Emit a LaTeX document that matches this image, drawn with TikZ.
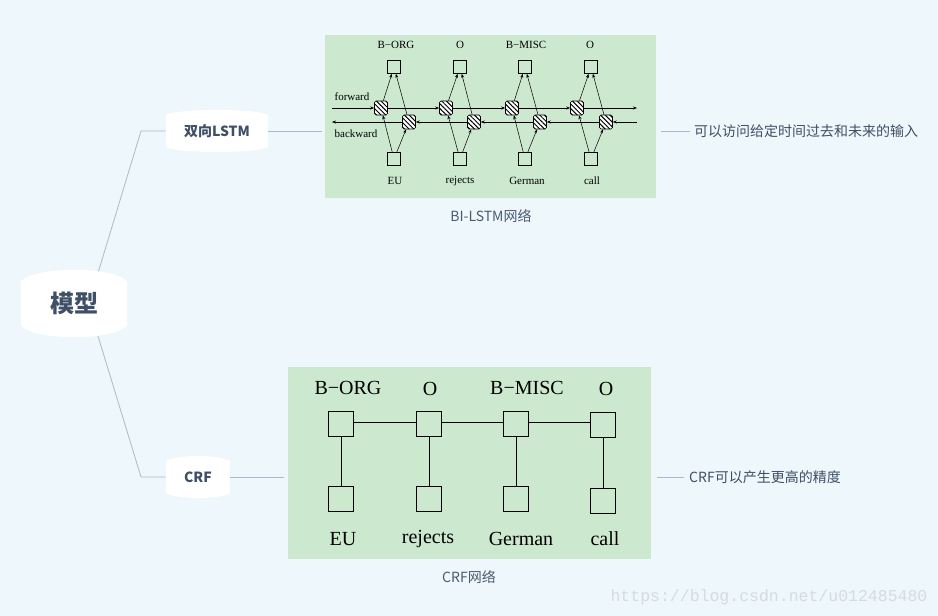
\documentclass[tikz,border=0pt]{standalone}
\usepackage{fontspec}
\setmainfont{Liberation Serif}
\newfontfamily\cjk{Noto Sans CJK SC}
\newfontfamily\monof{Liberation Mono}
\usetikzlibrary{arrows.meta,patterns.meta}
\pgfdeclarelayer{bg}
\pgfsetlayers{bg,main}
\definecolor{bgc}{HTML}{EEF7FB}
\definecolor{imgg}{HTML}{CCE8CF}
\definecolor{mmtext}{HTML}{3E4F66}
\definecolor{mmline}{HTML}{A9BBCB}
\definecolor{captxt}{HTML}{4A5A70}
\definecolor{wmc}{HTML}{D5DCE1}
\newcommand{\mmfill}[2]{%
  \fill[white] ([yshift=-#2]#1.north west) .. controls ([xshift=12pt]#1.north west) and ([xshift=-12pt]#1.north east) .. ([yshift=-#2]#1.north east)
    -- ([yshift=#2]#1.south east) .. controls ([xshift=-12pt]#1.south east) and ([xshift=12pt]#1.south west) .. ([yshift=#2]#1.south west) -- cycle;}
\begin{document}
\begin{tikzpicture}[x=1pt,y=-1pt,
  mm/.style={text=mmtext, inner sep=0pt},
  mmln/.style={draw=mmline, line width=0.8pt},
  lbox/.style={draw, line width=0.6pt, minimum size=13pt, inner sep=0pt},
  cell/.style={draw, line width=0.6pt, minimum width=13pt, minimum height=14pt, inner sep=0pt, rounded corners=1.5pt, fill=white, postaction={pattern={Lines[angle=-45,distance=3.3pt,line width=1pt]}}},
  arr/.style={line width=0.5pt, -{Stealth[length=4pt,width=3pt]}},
  ltxt/.style={font=\fontsize{11}{11}\selectfont, inner sep=0pt},
  cbox/.style={draw, line width=0.8pt, minimum size=25pt, inner sep=0pt},
  ctxt/.style={font=\fontsize{20}{20}\selectfont, inner sep=0pt},
  note/.style={font=\cjk\fontsize{14}{14}\selectfont, text=mmtext, inner sep=0pt, anchor=west},
  captn/.style={font=\cjk\fontsize{14}{14}\selectfont, text=captxt, inner sep=0pt}
]
\useasboundingbox (0,0) rectangle (938,616);

% mind map nodes
\node[mm, font=\cjk\bfseries\fontsize{24}{24}\selectfont, minimum width=106pt, minimum height=75pt] (root) at (74,303.5) {模型};
\node[mm, font=\cjk\bfseries\fontsize{14}{14}\selectfont, minimum width=102pt, minimum height=45pt] (lstm) at (217,131) {双向LSTM};
\node[mm, font=\cjk\bfseries\fontsize{14}{14}\selectfont, minimum width=64pt, minimum height=45pt] (crf) at (198,477) {CRF};

% image panels
\node[fill=imgg, minimum width=331pt, minimum height=163pt, inner sep=0pt] (img1) at (490.5,116.5) {};
\node[fill=imgg, minimum width=363pt, minimum height=192pt, inner sep=0pt] (img2) at (469.5,463) {};

\coordinate (r1) at (98,273);
\coordinate (r2) at (98,336);
\coordinate (k1) at (141,131);
\coordinate (k2) at (141,477);

\begin{pgfonlayer}{bg}
  \fill[bgc] (0,0) rectangle (938,616);
  \draw[mmln] (r1) -- (k1) -- (lstm);
  \draw[mmln] (r2) -- (k2) -- (crf);
  \mmfill{root}{16pt}
  \mmfill{lstm}{6.7pt}
  \mmfill{crf}{6.7pt}
\end{pgfonlayer}

\draw[mmln] (lstm.east) -- ([xshift=-3pt]img1.west |- lstm.east);
\draw[mmln] (crf.east) -- ([xshift=-4pt]img2.west |- crf.east);

% notes
\node[note] (n1) at (694,131) {可以访问给定时间过去和未来的输入};
\node[note] (n2) at (689,477) {CRF可以产生更高的精度};
\draw[mmln] ([xshift=5pt]img1.east |- n1.west) -- ([xshift=-4pt]n1.west);
\draw[mmln] ([xshift=6pt]img2.east |- n2.west) -- ([xshift=-5pt]n2.west);

% captions
\node[captn] (c1) at (491,216) {BI-LSTM网络};
\node[captn] (c2) at (469,577) {CRF网络};

% ---------- BI-LSTM figure ----------
\foreach \i/\x in {1/394,2/460,3/525,4/591}{
  \node[lbox] (t\i) at (\x,67) {};
  \node[lbox] (u\i) at (\x,159) {};
}
\foreach \i/\x in {1/381,2/446,3/512,4/577}{
  \node[cell] (f\i) at (\x,108) {};
}
\foreach \i/\x in {1/409,2/474,3/540,4/606}{
  \node[cell] (b\i) at (\x,122) {};
}
\node[ltxt] (tl1) at (396,45) {B−ORG};
\node[ltxt] (tl2) at (460,45) {O};
\node[ltxt] (tl3) at (526,45) {B−MISC};
\node[ltxt] (tl4) at (590,45) {O};
\node[ltxt] (bl1) at (395,181) {EU};
\node[ltxt] (bl2) at (460,181) {rejects};
\node[ltxt] (bl3) at (527,181) {German};
\node[ltxt] (bl4) at (592,181) {call};
\node[ltxt] (fw) at (352,97) {forward};
\node[ltxt] (bw) at (356,134) {backward};

\coordinate (fs) at (332,108);
\coordinate (fe) at (637,108);
\coordinate (bs) at (637,122);
\coordinate (be) at (332,122);
\draw[arr] (fs) -- (f1);
\draw[arr] (f1) -- (f2);
\draw[arr] (f2) -- (f3);
\draw[arr] (f3) -- (f4);
\draw[arr] (f4) -- (fe);
\draw[arr] (bs) -- (b4);
\draw[arr] (b4) -- (b3);
\draw[arr] (b3) -- (b2);
\draw[arr] (b2) -- (b1);
\draw[arr] (b1) -- (be);
\foreach \i in {1,2,3,4}{
  \draw[arr] (u\i) -- (f\i);
  \draw[arr] (u\i) -- (b\i);
  \draw[arr] (f\i) -- (t\i);
  \draw[arr] (b\i) -- (t\i);
}

% ---------- CRF figure ----------
\foreach \i/\x/\y/\yb in {1/341/424/499,2/429/424/499,3/516/424/499,4/603/425/501}{
  \node[cbox, fill=imgg] (ct\i) at (\x,\y) {};
  \node[cbox, fill=imgg] (cb\i) at (\x,\yb) {};
  \draw[line width=0.8pt] (ct\i) -- (cb\i);
}
\draw[line width=0.8pt] ([yshift=1.5pt]ct1.east) -- ([yshift=1.5pt]ct2.west);
\draw[line width=0.8pt] ([yshift=1.5pt]ct2.east) -- ([yshift=1.5pt]ct3.west);
\draw[line width=0.8pt] ([yshift=1.5pt]ct3.east) -- ([yshift=1.5pt]ct3.east -| ct4.west);
\node[ctxt] (cl1) at (348,388) {B−ORG};
\node[ctxt] (cl2) at (430,389) {O};
\node[ctxt] (cl3) at (527,388) {B−MISC};
\node[ctxt] (cl4) at (606,389) {O};
\node[ctxt] (cw1) at (343,539) {EU};
\node[ctxt] (cw2) at (428,539) {rejects};
\node[ctxt] (cw3) at (521,539) {German};
\node[ctxt] (cw4) at (605,539) {call};

% watermark
\node[font=\monof\fontsize{16.5}{16.5}\selectfont, text=wmc, inner sep=0pt] (wm) at (769,597) {https://blog.csdn.net/u012485480};
\end{tikzpicture}
\end{document}
